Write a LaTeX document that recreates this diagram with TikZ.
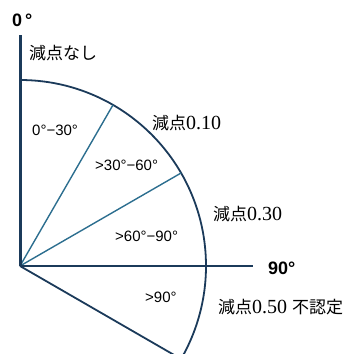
\documentclass[tikz,border=0pt]{standalone}
\usepackage{fontspec}
\setmainfont{Liberation Serif}
\setsansfont{Liberation Sans}
\newfontfamily\cjk{Noto Sans CJK JP}
\newcommand{\jp}[1]{{\cjk\fontsize{17}{17}\selectfont #1}}
\usetikzlibrary{positioning,calc}
\definecolor{axisnavy}{HTML}{1B3A5A}
\definecolor{raycol}{HTML}{2C6E8F}

\begin{document}
\begin{tikzpicture}[x=1pt, y=1pt,
    every node/.style={inner sep=0pt, anchor=west},
    axisline/.style={draw=axisnavy, line width=2.4pt},
    rimline/.style={draw=axisnavy, line width=1.8pt},
    rayline/.style={draw=raycol, line width=1.4pt},
    zonetxt/.style={font=\sffamily\fontsize{15}{15}\selectfont},
    penaltytxt/.style={font=\fontsize{20}{20}\selectfont},
    degtxt/.style={font=\sffamily\bfseries\fontsize{18}{18}\selectfont}]
  \def\R{186}
  \useasboundingbox (0,0) rectangle (348,354);
  \clip (0,0) rectangle (348,354);
  \coordinate (O) at (20,88);
  \coordinate (top) at (20,319);
  \coordinate (right) at (253,88);
  % arc and rays
  \draw[rimline] ($(O)+(90:\R)$) arc[start angle=90, end angle=-30, radius=\R];
  \coordinate (r60) at ($(O)+(60:\R)$);
  \coordinate (r30) at ($(O)+(30:\R)$);
  \coordinate (rm30) at ($(O)+(-30:\R)$);
  \draw[rayline] (O) -- (r60);
  \draw[rayline] (O) -- (r30);
  \draw[rimline] (O) -- (rm30);
  % axes
  \draw[axisline] (O) -- (right);
  \draw[axisline, line width=3pt] (O) -- (top);
  % labels
  \node[degtxt] (zero) at (12,334) {0\,°};
  \node[degtxt] (ninety) at (268,86) {90°};
  \node[penaltytxt] (none) at (29,301) {\jp{減点なし}};
  \node[penaltytxt] (p10) at (152,231) {\jp{減点}0.10};
  \node[penaltytxt] (p30) at (213,140) {\jp{減点}0.30};
  \node[penaltytxt] (p50) at (218,47) {\jp{減点}0.50 \jp{不認定}};
  \node[zonetxt] (z1) at (32,224) {0°−30°};
  \node[zonetxt] (z2) at (95,189) {>30°−60°};
  \node[zonetxt] (z3) at (115,118) {>60°−90°};
  \node[zonetxt] (z4) at (145,57) {>90°};
\end{tikzpicture}
\end{document}
